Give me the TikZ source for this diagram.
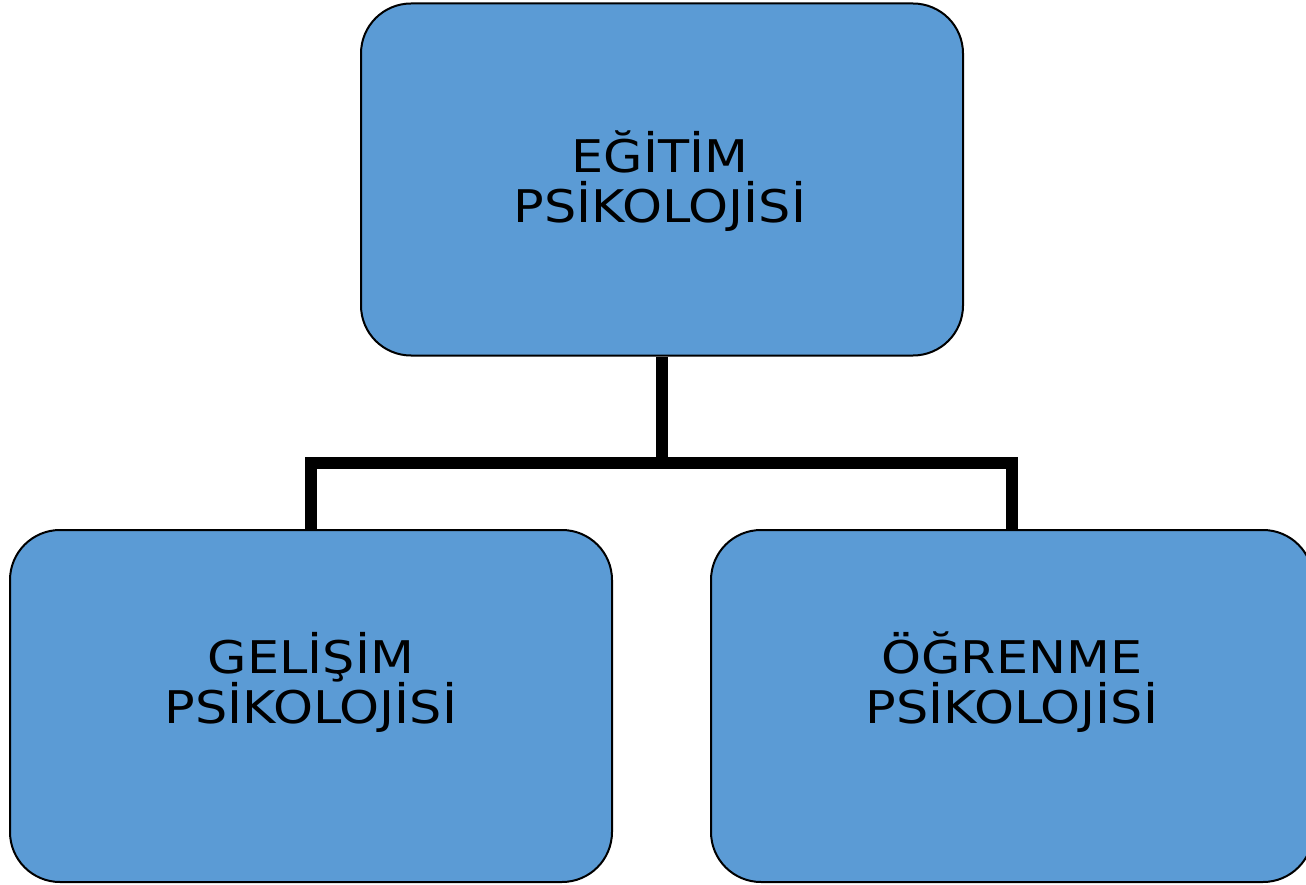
\documentclass[tikz,border=0pt]{standalone}
\usepackage{fontspec}
\setmainfont{DejaVu Sans}[FakeStretch=1.13]
\definecolor{boxblue}{HTML}{5B9BD5}
\tikzset{
  box/.style={draw=black, line width=2pt, fill=boxblue, rounded corners=50pt,
    minimum width=602pt, minimum height=352pt, inner sep=0pt},
  label text/.style={align=center, font=\fontsize{45}{50}\selectfont, text=black, inner sep=0pt},
  conn/.style={draw=black, line width=12pt, line join=miter, line cap=butt}
}
\begin{document}
\begin{tikzpicture}[x=1pt,y=-1pt]
\useasboundingbox (0,0) rectangle (1306,885);
\clip (0,0) rectangle (1306,885);
\node[box] (top) at (662,179.5) {};
\node[box] (left) at (311,706) {};
\node[box] (right) at (1012,706) {};
\node[label text] (toptext) at (660,181) {EĞİTİM\\PSİKOLOJİSİ};
\node[label text] (lefttext) at (311,682) {GELİŞİM\\PSİKOLOJİSİ};
\node[label text] (righttext) at (1012,682) {ÖĞRENME\\PSİKOLOJİSİ};
\coordinate (junction) at (662,463);
\draw[conn] (top.south) -- (junction);
\draw[conn] (left.north) -- (left.north |- junction) -- (right.north |- junction) -- (right.north);
\end{tikzpicture}
\end{document}
